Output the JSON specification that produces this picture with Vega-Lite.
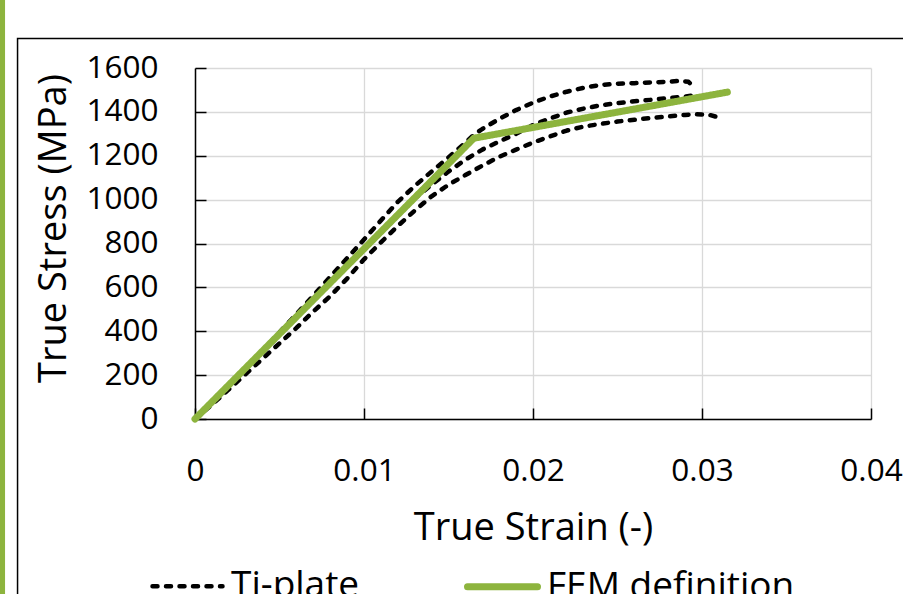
{
  "$schema": "https://vega.github.io/schema/vega-lite/v6.json",
  "width": 676,
  "height": 351,
  "autosize": {"type": "none"},
  "padding": {"left": 195, "top": 68, "right": 32, "bottom": 175},
  "background": "white",
  "config": {
    "view": {"stroke": null},
    "font": "Open Sans",
    "axis": {
      "labelFont": "Open Sans",
      "labelFontSize": 31.5,
      "labelColor": "#000000",
      "titleFont": "Open Sans",
      "titleFontSize": 38,
      "titleFontWeight": "normal",
      "titleColor": "#000000",
      "domainColor": "#000000",
      "domainWidth": 1.5,
      "tickColor": "#000000",
      "tickWidth": 1.5,
      "tickSize": -11,
      "grid": true,
      "gridColor": "#D9D9D9",
      "gridWidth": 1.3,
      "labelFlush": false,
      "labelOverlap": false
    }
  },
  "datasets": {
    "curves": [
      {"series": "Ti-plate", "curve": "A", "strain": 0, "stress": 0},
      {"series": "Ti-plate", "curve": "A", "strain": 0.001, "stress": 75},
      {"series": "Ti-plate", "curve": "A", "strain": 0.002, "stress": 152},
      {"series": "Ti-plate", "curve": "A", "strain": 0.003, "stress": 230},
      {"series": "Ti-plate", "curve": "A", "strain": 0.004, "stress": 310},
      {"series": "Ti-plate", "curve": "A", "strain": 0.005, "stress": 395},
      {"series": "Ti-plate", "curve": "A", "strain": 0.006, "stress": 478},
      {"series": "Ti-plate", "curve": "A", "strain": 0.007, "stress": 562},
      {"series": "Ti-plate", "curve": "A", "strain": 0.008, "stress": 648},
      {"series": "Ti-plate", "curve": "A", "strain": 0.009, "stress": 733},
      {"series": "Ti-plate", "curve": "A", "strain": 0.010, "stress": 818},
      {"series": "Ti-plate", "curve": "A", "strain": 0.011, "stress": 905},
      {"series": "Ti-plate", "curve": "A", "strain": 0.012, "stress": 990},
      {"series": "Ti-plate", "curve": "A", "strain": 0.013, "stress": 1062},
      {"series": "Ti-plate", "curve": "A", "strain": 0.014, "stress": 1128},
      {"series": "Ti-plate", "curve": "A", "strain": 0.015, "stress": 1192},
      {"series": "Ti-plate", "curve": "A", "strain": 0.016, "stress": 1260},
      {"series": "Ti-plate", "curve": "A", "strain": 0.0165, "stress": 1295},
      {"series": "Ti-plate", "curve": "A", "strain": 0.017, "stress": 1322},
      {"series": "Ti-plate", "curve": "A", "strain": 0.018, "stress": 1368},
      {"series": "Ti-plate", "curve": "A", "strain": 0.019, "stress": 1408},
      {"series": "Ti-plate", "curve": "A", "strain": 0.020, "stress": 1442},
      {"series": "Ti-plate", "curve": "A", "strain": 0.021, "stress": 1470},
      {"series": "Ti-plate", "curve": "A", "strain": 0.022, "stress": 1492},
      {"series": "Ti-plate", "curve": "A", "strain": 0.023, "stress": 1510},
      {"series": "Ti-plate", "curve": "A", "strain": 0.024, "stress": 1523},
      {"series": "Ti-plate", "curve": "A", "strain": 0.025, "stress": 1528},
      {"series": "Ti-plate", "curve": "A", "strain": 0.026, "stress": 1531},
      {"series": "Ti-plate", "curve": "A", "strain": 0.027, "stress": 1534},
      {"series": "Ti-plate", "curve": "A", "strain": 0.028, "stress": 1537},
      {"series": "Ti-plate", "curve": "A", "strain": 0.0287, "stress": 1542},
      {"series": "Ti-plate", "curve": "A", "strain": 0.0292, "stress": 1537},
      {"series": "Ti-plate", "curve": "A", "strain": 0.0294, "stress": 1522},
      {"series": "Ti-plate", "curve": "B", "strain": 0, "stress": 0},
      {"series": "Ti-plate", "curve": "B", "strain": 0.002, "stress": 150},
      {"series": "Ti-plate", "curve": "B", "strain": 0.004, "stress": 305},
      {"series": "Ti-plate", "curve": "B", "strain": 0.006, "stress": 462},
      {"series": "Ti-plate", "curve": "B", "strain": 0.008, "stress": 618},
      {"series": "Ti-plate", "curve": "B", "strain": 0.010, "stress": 775},
      {"series": "Ti-plate", "curve": "B", "strain": 0.012, "stress": 930},
      {"series": "Ti-plate", "curve": "B", "strain": 0.013, "stress": 1005},
      {"series": "Ti-plate", "curve": "B", "strain": 0.014, "stress": 1068},
      {"series": "Ti-plate", "curve": "B", "strain": 0.015, "stress": 1128},
      {"series": "Ti-plate", "curve": "B", "strain": 0.016, "stress": 1182},
      {"series": "Ti-plate", "curve": "B", "strain": 0.017, "stress": 1228},
      {"series": "Ti-plate", "curve": "B", "strain": 0.018, "stress": 1265},
      {"series": "Ti-plate", "curve": "B", "strain": 0.019, "stress": 1300},
      {"series": "Ti-plate", "curve": "B", "strain": 0.020, "stress": 1340},
      {"series": "Ti-plate", "curve": "B", "strain": 0.021, "stress": 1370},
      {"series": "Ti-plate", "curve": "B", "strain": 0.022, "stress": 1397},
      {"series": "Ti-plate", "curve": "B", "strain": 0.023, "stress": 1415},
      {"series": "Ti-plate", "curve": "B", "strain": 0.024, "stress": 1430},
      {"series": "Ti-plate", "curve": "B", "strain": 0.025, "stress": 1440},
      {"series": "Ti-plate", "curve": "B", "strain": 0.026, "stress": 1448},
      {"series": "Ti-plate", "curve": "B", "strain": 0.027, "stress": 1455},
      {"series": "Ti-plate", "curve": "B", "strain": 0.028, "stress": 1463},
      {"series": "Ti-plate", "curve": "B", "strain": 0.029, "stress": 1470},
      {"series": "Ti-plate", "curve": "B", "strain": 0.0296, "stress": 1476},
      {"series": "Ti-plate", "curve": "C", "strain": 0, "stress": 0},
      {"series": "Ti-plate", "curve": "C", "strain": 0.001, "stress": 65},
      {"series": "Ti-plate", "curve": "C", "strain": 0.002, "stress": 135},
      {"series": "Ti-plate", "curve": "C", "strain": 0.003, "stress": 205},
      {"series": "Ti-plate", "curve": "C", "strain": 0.004, "stress": 275},
      {"series": "Ti-plate", "curve": "C", "strain": 0.005, "stress": 345},
      {"series": "Ti-plate", "curve": "C", "strain": 0.006, "stress": 415},
      {"series": "Ti-plate", "curve": "C", "strain": 0.007, "stress": 490},
      {"series": "Ti-plate", "curve": "C", "strain": 0.008, "stress": 560},
      {"series": "Ti-plate", "curve": "C", "strain": 0.009, "stress": 640},
      {"series": "Ti-plate", "curve": "C", "strain": 0.010, "stress": 728},
      {"series": "Ti-plate", "curve": "C", "strain": 0.011, "stress": 805},
      {"series": "Ti-plate", "curve": "C", "strain": 0.012, "stress": 880},
      {"series": "Ti-plate", "curve": "C", "strain": 0.013, "stress": 950},
      {"series": "Ti-plate", "curve": "C", "strain": 0.014, "stress": 1015},
      {"series": "Ti-plate", "curve": "C", "strain": 0.015, "stress": 1068},
      {"series": "Ti-plate", "curve": "C", "strain": 0.016, "stress": 1112},
      {"series": "Ti-plate", "curve": "C", "strain": 0.017, "stress": 1155},
      {"series": "Ti-plate", "curve": "C", "strain": 0.018, "stress": 1195},
      {"series": "Ti-plate", "curve": "C", "strain": 0.019, "stress": 1228},
      {"series": "Ti-plate", "curve": "C", "strain": 0.020, "stress": 1260},
      {"series": "Ti-plate", "curve": "C", "strain": 0.021, "stress": 1288},
      {"series": "Ti-plate", "curve": "C", "strain": 0.022, "stress": 1315},
      {"series": "Ti-plate", "curve": "C", "strain": 0.023, "stress": 1333},
      {"series": "Ti-plate", "curve": "C", "strain": 0.024, "stress": 1345},
      {"series": "Ti-plate", "curve": "C", "strain": 0.025, "stress": 1356},
      {"series": "Ti-plate", "curve": "C", "strain": 0.026, "stress": 1364},
      {"series": "Ti-plate", "curve": "C", "strain": 0.027, "stress": 1372},
      {"series": "Ti-plate", "curve": "C", "strain": 0.028, "stress": 1379},
      {"series": "Ti-plate", "curve": "C", "strain": 0.029, "stress": 1386},
      {"series": "Ti-plate", "curve": "C", "strain": 0.0297, "stress": 1389},
      {"series": "Ti-plate", "curve": "C", "strain": 0.0305, "stress": 1385},
      {"series": "Ti-plate", "curve": "C", "strain": 0.0311, "stress": 1372},
      {"series": "FEM definition", "curve": "FEM", "strain": 0, "stress": 0},
      {"series": "FEM definition", "curve": "FEM", "strain": 0.0165, "stress": 1280},
      {"series": "FEM definition", "curve": "FEM", "strain": 0.0315, "stress": 1490}
    ]
  },
  "layer": [
    {
      "data": {"name": "curves"},
      "mark": {"type": "line", "strokeCap": "round", "strokeJoin": "round"},
      "encoding": {
        "x": {
          "field": "strain",
          "type": "quantitative",
          "scale": {"domain": [0, 0.04]},
          "axis": {
            "title": "True Strain (-)",
            "values": [0, 0.01, 0.02, 0.03, 0.04],
            "format": ".2~f",
            "grid": true,
            "labelPadding": 47,
            "titleY": 90
          }
        },
        "y": {
          "field": "stress",
          "type": "quantitative",
          "scale": {"domain": [0, 1600]},
          "axis": {
            "title": "True Stress (MPa)",
            "values": [0, 200, 400, 600, 800, 1000, 1200, 1400, 1600],
            "format": "d",
            "grid": true,
            "labelPadding": 48,
            "titleX": -122,
            "titleY": 160
          }
        },
        "detail": {"field": "curve"},
        "color": {
          "field": "series",
          "type": "nominal",
          "title": null,
          "scale": {"domain": ["Ti-plate", "FEM definition"], "range": ["#000000", "#8DB43E"]},
          "legend": {
            "orient": "none",
            "legendX": -45,
            "legendY": 480,
            "direction": "horizontal",
            "symbolType": "stroke",
            "symbolSize": 4900,
            "labelFont": "Open Sans",
            "labelFontSize": 37,
            "labelColor": "#000000",
            "labelOffset": 6,
            "columnPadding": 93,
            "padding": 0,
            "labelLimit": 400,
            "encode": {"symbols": {"update": {"strokeCap": {"value": "round"}}}}
          }
        },
        "strokeDash": {
          "field": "series",
          "type": "nominal",
          "title": null,
          "scale": {"domain": ["Ti-plate", "FEM definition"], "range": [[5, 8.5], [1, 0]]}
        },
        "strokeWidth": {
          "field": "series",
          "type": "ordinal",
          "title": null,
          "scale": {"domain": ["Ti-plate", "FEM definition"], "range": [4.5, 7]}
        }
      }
    },
    {
      "data": {"values": [{"part": "frame"}]},
      "mark": {"type": "rect", "fill": "transparent", "stroke": "#000000", "strokeWidth": 1.5},
      "encoding": {
        "x": {"datum": -0.0105, "type": "quantitative"},
        "x2": {"datum": 0.046},
        "y": {"datum": 1734, "type": "quantitative"},
        "y2": {"datum": -900}
      }
    },
    {
      "data": {"values": [{"part": "bar"}]},
      "mark": {"type": "rect", "fill": "#8DB43E"},
      "encoding": {
        "x": {"datum": -0.01154, "type": "quantitative"},
        "x2": {"datum": -0.01124},
        "y": {"datum": 1920, "type": "quantitative"},
        "y2": {"datum": -900}
      }
    }
  ]
}
